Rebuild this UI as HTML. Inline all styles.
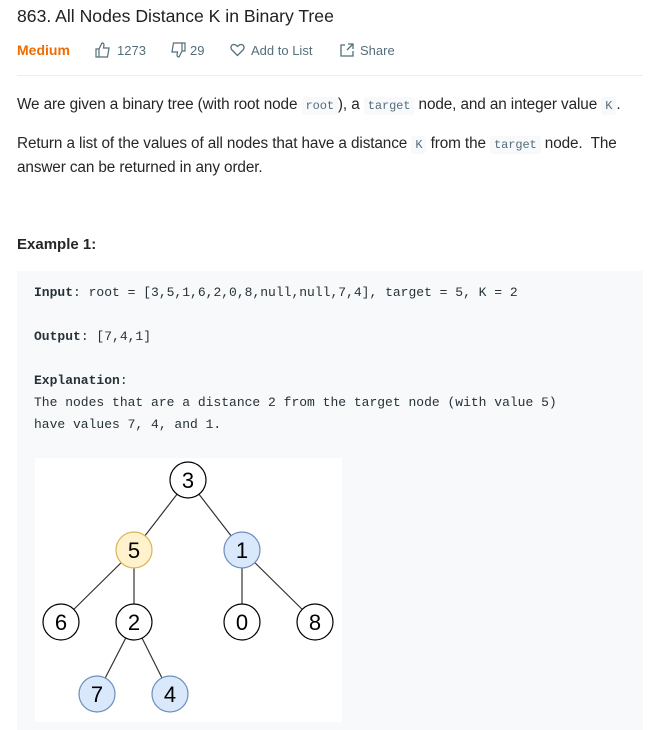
<!DOCTYPE html>
<html><head><meta charset="utf-8"><style>
body{margin:0;width:649px;height:730px;background:#fff;position:relative;overflow:hidden;font-family:"Liberation Sans",sans-serif;color:#262626}
.a{position:absolute;white-space:nowrap}
code{font-family:"Liberation Mono",monospace;font-size:12px;background:#f7f9fa;color:#546e7a;padding:2px 4px;border-radius:3px}
.m{font-family:"Liberation Mono",monospace;font-size:13px;color:#263238}
.t{font-size:15.3px;letter-spacing:-0.1px}
</style></head><body>
<div class="a" style="left:17px;top:6px;font-size:17.6px;color:#212121">863. All Nodes Distance K in Binary Tree</div>
<div class="a" style="left:17px;top:42px;font-size:14px;font-weight:bold;color:#ef6c00">Medium</div>
<svg class="a" style="left:95px;top:42px" width="16" height="16" fill="none" stroke="#546e7a" stroke-width="1.2"><path d="M1 7h3v8H1zM4 7l3-6c1.5 0 2 1 2 2l-0.5 3H14l-1.5 9H4"/></svg>
<div class="a" style="left:117px;top:43px;font-size:13px;color:#546e7a">1273</div>
<svg class="a" style="left:170px;top:42px" width="16" height="16" fill="none" stroke="#546e7a" stroke-width="1.2"><path d="M15 9h-3V1h3zM12 9l-3 6c-1.5 0-2-1-2-2l0.5-3H2L3.5 1H12"/></svg>
<div class="a" style="left:190px;top:43px;font-size:13px;color:#546e7a">29</div>
<svg class="a" style="left:230px;top:43px" width="15" height="14" fill="none" stroke="#546e7a" stroke-width="1.3"><path d="M7.5 12.5L2 7C0 5 1 1.5 4 1.5c1.5 0 2.5 1 3.5 2 1-1 2-2 3.5-2 3 0 4 3.5 2 5.5z"/></svg>
<div class="a" style="left:251px;top:43px;font-size:13px;color:#546e7a">Add to List</div>
<svg class="a" style="left:340px;top:43px" width="14" height="14" fill="none" stroke="#546e7a" stroke-width="1.3"><path d="M5 2H1v11h12V8M8 1h5v5M13 1L7 7"/></svg>
<div class="a" style="left:360px;top:43px;font-size:13px;color:#546e7a">Share</div>
<div class="a" style="left:17px;top:75px;width:626px;height:1px;background:#eceff1"></div>
<div class="a t" style="left:17px;top:96px">We are given a binary tree (with root node <code>root</code>), a <code>target</code> node, and an integer value <code>K</code>.</div>
<div class="a t" style="left:17px;top:135px">Return a list of the values of all nodes that have a distance <code>K</code> from the <code>target</code> node.&nbsp; The</div>
<div class="a t" style="left:17px;top:159px">answer can be returned in any order.</div>
<div class="a" style="left:17px;top:236px;font-size:15px;font-weight:bold">Example 1:</div>
<div class="a" style="left:17px;top:271px;width:626px;height:459px;background:#f7f9fa"></div>
<div class="a m" style="left:34px;top:285px"><b>Input</b>: root = [3,5,1,6,2,0,8,null,null,7,4], target = 5, K = 2</div>
<div class="a m" style="left:34px;top:329px"><b>Output</b>: [7,4,1]</div>
<div class="a m" style="left:34px;top:373px"><b>Explanation</b>:</div>
<div class="a m" style="left:34px;top:395px">The nodes that are a distance 2 from the target node (with value 5)</div>
<div class="a m" style="left:34px;top:417px">have values 7, 4, and 1.</div>
<svg class="a" style="left:0;top:0" width="649" height="730">
<rect x="35" y="458" width="307" height="264" fill="#fff"/>
<g stroke="#333" stroke-width="1.2">
<line x1="188" y1="480" x2="134" y2="550"/><line x1="188" y1="480" x2="242" y2="550"/>
<line x1="134" y1="550" x2="61" y2="622"/><line x1="134" y1="550" x2="134" y2="622"/>
<line x1="242" y1="550" x2="242" y2="622"/><line x1="242" y1="550" x2="315" y2="622"/>
<line x1="134" y1="622" x2="97" y2="694"/><line x1="134" y1="622" x2="170" y2="694"/>
</g>
<g stroke-width="1.2" font-family="Liberation Sans,sans-serif" font-size="22" text-anchor="middle" fill="#000">
<circle cx="188" cy="480" r="18" fill="#fff" stroke="#000"/>
<circle cx="134" cy="550" r="18" fill="#fff2cc" stroke="#d6b656"/>
<circle cx="242" cy="550" r="18" fill="#dae8fc" stroke="#6c8ebf"/>
<circle cx="61" cy="622" r="18" fill="#fff" stroke="#000"/>
<circle cx="134" cy="622" r="18" fill="#fff" stroke="#000"/>
<circle cx="242" cy="622" r="18" fill="#fff" stroke="#000"/>
<circle cx="315" cy="622" r="18" fill="#fff" stroke="#000"/>
<circle cx="97" cy="694" r="18" fill="#dae8fc" stroke="#6c8ebf"/>
<circle cx="170" cy="694" r="18" fill="#dae8fc" stroke="#6c8ebf"/>
<g stroke="none">
<text x="188" y="488">3</text><text x="134" y="558">5</text><text x="242" y="558">1</text>
<text x="61" y="630">6</text><text x="134" y="630">2</text><text x="242" y="630">0</text><text x="315" y="630">8</text>
<text x="97" y="702">7</text><text x="170" y="702">4</text>
</g></g>
</svg>
</body></html>
